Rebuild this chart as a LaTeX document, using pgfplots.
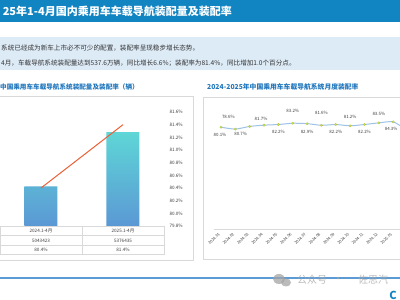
\documentclass[border=0pt]{standalone}
\usepackage{pgfplots}
\usepackage{pgfplotstable}
\pgfplotsset{compat=1.18}
\usepackage{fontspec}
\setmainfont{Noto Sans CJK SC}
\pgfkeys{/pgf/number format/assume math mode=true}
\definecolor{hdr}{RGB}{17,133,193}
\definecolor{lightbox}{RGB}{221,235,247}
\definecolor{txt}{RGB}{51,51,51}
\definecolor{titleblue}{RGB}{33,119,189}
\definecolor{boxgray}{RGB}{217,217,217}
\definecolor{barTop}{RGB}{94,214,214}
\definecolor{barBot}{RGB}{91,152,213}
\definecolor{lineOr}{RGB}{237,95,55}
\definecolor{rateLine}{RGB}{157,195,230}
\definecolor{markc}{RGB}{214,226,74}
\definecolor{lblgray}{RGB}{64,64,64}
\definecolor{wm}{RGB}{165,165,165}
\definecolor{botline}{RGB}{91,155,213}

\pgfplotstableread{
x y dx dy h
0 80.1 -1 -8 0
1 78.6 -7 12 0
2 80.7 -9 -7 0
3 81.7 -3 6 0
4 82.2 0 -7.5 0
5 83.2 0 12 0
6 82.9 0 -8 0
7 81.6 0 12 0
8 82.2 0 -7.5 0
9 81.2 0 9 0
10 82.2 0 -7.5 0
11 83.5 0 9 0
12 84.3 -2 -7 0
13 77.5 0 9 1
}\rateTable

\begin{document}
\begin{tikzpicture}[x=1pt,y=1pt]
\path[use as bounding box] (0,0) rectangle (400,300);
\begin{scope}
\clip (0,0) rectangle (400,300);
\fill[white] (0,0) rectangle (400,300);
% header
\fill[hdr] (0,278) rectangle (400,300);
\node[anchor=east, text=white, font=\bfseries\fontsize{11}{13}\selectfont, inner sep=0pt] at (232,289) {25年1-4月国内乘用车车载导航装配量及装配率};
% text box
\fill[lightbox] (0,230) rectangle (400,263);
\node[anchor=west, text=txt, font=\fontsize{6.6}{8}\selectfont, inner sep=0pt] at (1,252) {系统已经成为新车上市必不可少的配置，装配率呈现稳步增长态势。};
\node[anchor=west, text=txt, font=\fontsize{6.6}{8}\selectfont, inner sep=0pt] at (1,237) {4月，车载导航系统装配量达到537.6万辆，同比增长6.6\%；装配率为81.4\%，同比增加1.0个百分点。};
% chart titles
\node[anchor=east, text=titleblue, font=\bfseries\fontsize{6.6}{8}\selectfont, inner sep=0pt] at (139,213) {中国乘用车车载导航系统装配量及装配率（辆）};
\node[anchor=west, text=titleblue, font=\bfseries\fontsize{6.8}{8}\selectfont, inner sep=0pt] at (207,213) {2024-2025年中国乘用车车载导航系统月度装配率};
% boxes
\draw[boxgray, line width=0.6pt, fill=white] (-5,40) rectangle (193,204);
\draw[boxgray, line width=0.6pt, fill=white] (203,41) rectangle (420,203);

% left chart: bars
\begin{axis}[at={(0pt,74pt)}, anchor=south west, scale only axis,
  width=164pt, height=114pt, xmin=-0.5, xmax=1.5,
  ymin=4800000, ymax=5500000, hide axis]
\addplot[ybar, bar width=33pt, draw=none, top color=barTop, bottom color=barBot]
  coordinates {(0,5043423) (1,5376435)};
\end{axis}
% left chart: rate line with right axis
\begin{axis}[at={(0pt,74pt)}, anchor=south west, scale only axis,
  width=164pt, height=114pt, xmin=-0.5, xmax=1.5,
  ymin=79.8, ymax=81.6, axis x line=none, axis y line*=right,
  y axis line style={draw=none}, ytick style={draw=none},
  ytick={79.8,80.0,80.2,80.4,80.6,80.8,81.0,81.2,81.4,81.6},
  yticklabel={\pgfmathprintnumber[fixed,fixed zerofill,precision=1]{\tick}\%},
  yticklabel style={font=\fontsize{4.6}{5}\selectfont, text=lblgray, xshift=2pt},
  clip=false]
\addplot[lineOr, line width=1pt] coordinates {(0,80.4) (1,81.4)};
\end{axis}
% table under left chart
\begin{scope}[boxgray, line width=0.5pt]
\draw (0.5,74) -- (164,74);
\draw (0.5,64.3) -- (164,64.3);
\draw (0.5,54.7) -- (164,54.7);
\draw (0.5,45.3) -- (164,45.3);
\draw (0.5,74) -- (0.5,45.3);
\draw (82,74) -- (82,45.3);
\draw (164,74) -- (164,45.3);
\end{scope}
\begin{scope}[every node/.style={text=lblgray, font=\fontsize{4.6}{5}\selectfont, inner sep=0pt}]
\node at (41,69.2) {2024.1-4月};
\node at (123,69.2) {2025.1-4月};
\node at (41,59.5) {5043423};
\node at (123,59.5) {5376435};
\node at (41,50) {80.4\%};
\node at (123,50) {81.4\%};
\end{scope}

% right chart
\begin{axis}[at={(213.8pt,71pt)}, anchor=south west, scale only axis,
  width=229.6pt, height=127.1pt, xmin=-0.5, xmax=15.5, ymin=0, ymax=100,
  axis x line*=bottom, axis y line=none,
  x axis line style={draw=boxgray, line width=0.6pt, -},
  xtick={0,...,12}, xtick style={draw=none},
  xticklabels={2024.01,2024.02,2024.03,2024.04,2024.05,2024.06,2024.07,2024.08,2024.09,2024.10,2024.11,2024.12,2025.01},
  xticklabel style={rotate=45, anchor=east, font=\fontsize{4}{5}\selectfont, text=lblgray, xshift=-1pt, yshift=-2pt},
  clip=false]
\addplot[rateLine, line width=1pt, smooth, tension=0.4, mark=*, mark size=1.2pt,
  mark options={fill=markc, draw=markc!85!black, line width=0.3pt},
  point meta=y,
  visualization depends on={\thisrow{dx} \as \dx},
  visualization depends on={\thisrow{dy} \as \dy},
  visualization depends on={\thisrow{h} \as \hid},
  nodes near coords={\ifdim\hid pt<0.5pt \pgfmathprintnumber[fixed,fixed zerofill,precision=1]{\pgfplotspointmeta}\%\fi},
  every node near coord/.append style={anchor=center, xshift=\dx*1pt, yshift=\dy*1pt,
    font=\fontsize{4.4}{5}\selectfont, text=lblgray, inner sep=0pt}]
  table[x=x, y=y] {\rateTable};
\end{axis}

% bottom line and watermark
\draw[botline, line width=1.2pt] (0,22) -- (400,22);
\begin{scope}[opacity=0.75]
\fill[wm] (279,21) ellipse (6 and 5);
\fill[wm] (286,17.5) ellipse (5 and 4);
\node[anchor=west, text=wm, font=\fontsize{10}{12}\selectfont, inner sep=0pt] at (297,20) {公众号};
\node[text=wm, font=\fontsize{10}{12}\selectfont, inner sep=0pt] at (338,20) {·};
\node[anchor=west, text=wm, font=\fontsize{10}{12}\selectfont, inner sep=0pt] at (358,20) {佐思汽};
\end{scope}
\node[text=hdr, font=\bfseries\fontsize{11}{13}\selectfont, inner sep=0pt, anchor=south] at (393,0.5) {C};
\end{scope}
\end{tikzpicture}
\end{document}
